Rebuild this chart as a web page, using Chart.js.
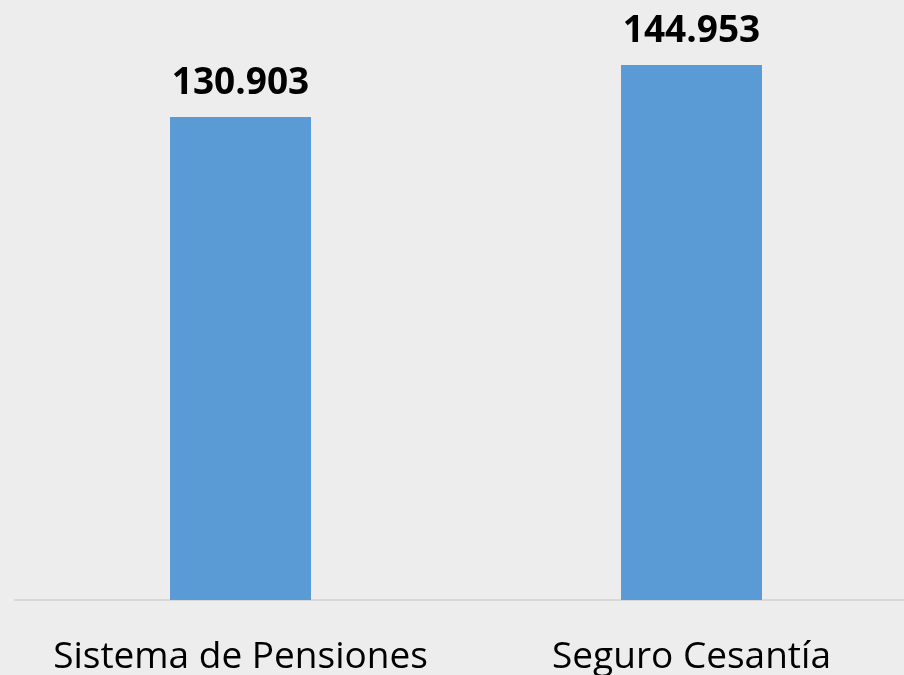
<!DOCTYPE html>
<html>
<head>
<meta charset="utf-8">
<script src="https://cdn.jsdelivr.net/npm/chart.js@4/dist/chart.umd.min.js"></script>
<style>
  html, body { margin: 0; padding: 0; overflow: hidden; background: #ededed; }
  canvas { display: block; }
</style>
</head>
<body>
<canvas id="barChart" width="930" height="675"></canvas>
<script>
const categories = ['Sistema de Pensiones', 'Seguro Cesantía'];
const values = [130903, 144953];

function formatMiles(n) {
  return String(n).replace(/\B(?=(\d{3})+(?!\d))/g, '.');
}

const valueLabels = {
  id: 'valueLabels',
  afterDatasetsDraw(chart) {
    const ctx = chart.ctx;
    const meta = chart.getDatasetMeta(0);
    ctx.save();
    ctx.font = 'bold 37px "Open Sans", sans-serif';
    ctx.fillStyle = '#000000';
    ctx.textAlign = 'center';
    ctx.textBaseline = 'alphabetic';
    meta.data.forEach((bar, i) => {
      ctx.fillText(formatMiles(values[i]), bar.x, bar.y - 23);
    });
    ctx.restore();
  }
};

const ctx = document.getElementById('barChart').getContext('2d');
const chart = new Chart(ctx, {
  type: 'bar',
  data: {
    labels: categories,
    datasets: [{
      data: values,
      backgroundColor: '#5b9bd5',
      barPercentage: 0.3126,
      categoryPercentage: 1
    }]
  },
  options: {
    responsive: false,
    animation: false,
    layout: { padding: { left: 15, right: 13, top: 0, bottom: 0 } },
    scales: {
      x: {
        grid: { display: false },
        border: { display: true, color: '#d9d9d9', width: 2 },
        ticks: {
          color: '#000000',
          padding: 27,
          font: { family: '"Open Sans", sans-serif', size: 37 }
        },
        afterFit: (s) => { s.height = 75; }
      },
      y: {
        display: false,
        min: 0,
        max: 162600
      }
    },
    plugins: {
      legend: { display: false },
      tooltip: { enabled: false }
    }
  },
  plugins: [valueLabels]
});
</script>
</body>
</html>
